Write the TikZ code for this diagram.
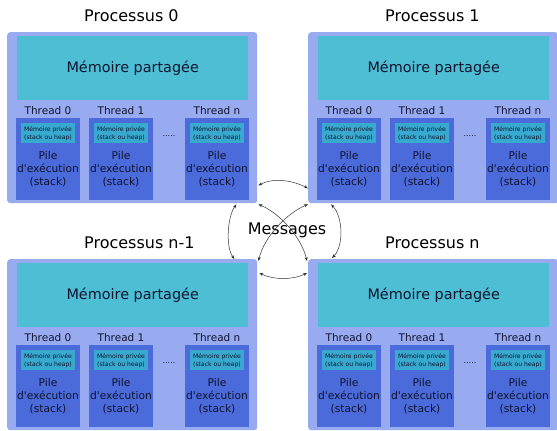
\documentclass[tikz,border=0pt]{standalone}
\usepackage{fontspec}
\setmainfont{DejaVu Sans}[Ligatures=TeXOff]
\usetikzlibrary{arrows.meta,calc}
\definecolor{outerc}{HTML}{98AAF0}
\definecolor{sharedc}{HTML}{4DBED4}
\definecolor{threadc}{HTML}{4B6BDB}
\definecolor{privc}{HTML}{38AAD0}
\definecolor{inktext}{HTML}{10142E}
\tikzset{
  procbox/.style={fill=outerc, rounded corners=3pt, minimum width=250pt, minimum height=171pt, inner sep=0pt, anchor=north west},
  sharedbox/.style={fill=sharedc, minimum width=231pt, minimum height=64pt, inner sep=0pt, anchor=north west, text=inktext, font=\fontsize{14.4}{17}\selectfont},
  threadbox/.style={fill=threadc, minimum width=64pt, minimum height=82pt, inner sep=0pt, anchor=north west},
  privbox/.style={fill=privc, minimum width=54pt, minimum height=20pt, inner sep=0pt, anchor=north, align=center, text=inktext, font=\fontsize{6.1}{8}\selectfont},
  piletext/.style={align=center, inner sep=0pt, text=inktext, font=\fontsize{10.7}{13}\selectfont},
  tlabel/.style={inner sep=0pt, text=inktext, font=\fontsize{10.5}{12}\selectfont},
  titletext/.style={inner sep=0pt, font=\fontsize{16}{19}\selectfont},
  dotstext/.style={inner sep=0pt, text=inktext, font=\fontsize{8}{8}\selectfont},
  msg/.style={draw=black!80, line width=0.5pt, {Stealth[length=4pt,width=3pt]}-{Stealth[length=4pt,width=3pt]}},
}
\newcommand\drawprocess[4]{%
  \begin{scope}[shift={(#2,#3)}]
    \node[procbox] (#1) at (0,0) {};
    \node[titletext, anchor=west] (#1title) at (77,-16) {#4};
    \node[sharedbox] (#1mem) at (10,4) {Mémoire partagée};
    \foreach \tx/\tl in {9/0,82/1,178/n}{
      \node[threadbox] (#1th\tl) at (\tx,86) {};
      \node[tlabel] (#1lab\tl) at ($(\tx,79)+(32,0)$) {Thread \tl};
      \node[privbox] (#1priv\tl) at ($(\tx,91)+(32,0)$) {Mémoire privée\\(stack ou heap)};
      \node[piletext] (#1pile\tl) at ($(\tx,137)+(32,0)$) {Pile\\d'exécution\\(stack)};
    }
    \node[dotstext] (#1dots) at (162,104) {.....};
  \end{scope}%
}
\begin{document}
\begin{tikzpicture}[x=1pt,y=-1pt]
\useasboundingbox (0,0) rectangle (557,431);
\drawprocess{p0}{7}{32}{Processus 0}
\drawprocess{p1}{308}{32}{Processus 1}
\drawprocess{p2}{7}{259}{Processus n-1}
\drawprocess{p3}{308}{259}{Processus n}
\node[titletext] (msgs) at (287,230) {Messages};
% arcs
\draw[msg] ([shift={(1,-18)}]p0.south east) .. controls +(15,-8) and +(-15,-8) .. ([shift={(0,-15)}]p1.south west);
\draw[msg] ([shift={(-21,1)}]p0.south east) .. controls +(-9,12) and +(-9,-12) .. ([shift={(-23,0)}]p2.north east);
\draw[msg] ([shift={(23,1)}]p1.south west) .. controls +(12,12) and +(12,-12) .. ([shift={(24,-1)}]p3.north west);
\draw[msg] ([shift={(2,14)}]p2.north east) .. controls +(14,7) and +(-14,7) .. ([shift={(-1,14)}]p3.north west);
% diagonals
\draw[msg] ([shift={(1,1)}]p0.south east) .. controls +(20,8) and +(-6,-25) .. ([shift={(-1,2)}]p3.north west);
\draw[msg] ([shift={(0,1)}]p1.south west) .. controls +(-20,8) and +(6,-25) .. ([shift={(1,2)}]p2.north east);
\end{tikzpicture}
\end{document}
